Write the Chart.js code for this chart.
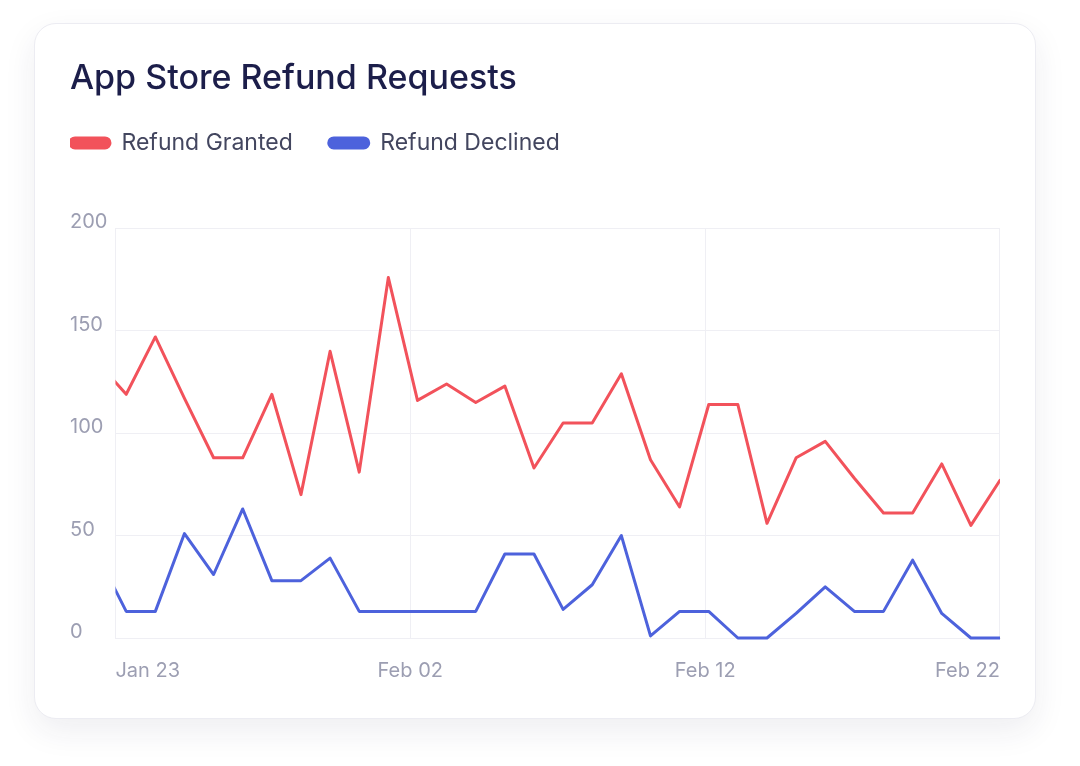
<!DOCTYPE html>
<html>
<head>
<meta charset="utf-8">
<title>App Store Refund Requests</title>
<script src="https://cdn.jsdelivr.net/npm/chart.js@4.4.1/dist/chart.umd.min.js"></script>
<style>
    html, body {
        margin: 0;
        padding: 0;
        background: #ffffff;
        width: 1080px;
        height: 766px;
        overflow: hidden;
        font-family: Inter, "Noto Sans", sans-serif;
    }
    .card {
        position: absolute;
        left: 34px;
        top: 23px;
        width: 1002px;
        height: 696px;
        background: #ffffff;
        border: 1px solid #ececf2;
        border-radius: 22px;
        box-shadow: 0 12px 32px rgba(40, 40, 80, 0.08);
        box-sizing: border-box;
    }
    #refundChart {
        position: absolute;
        left: 70px;
        top: 50px;
    }
</style>
</head>
<body>
<div class="card"></div>
<canvas id="refundChart" width="932" height="654" style="width:932px;height:654px"></canvas>

<script>
// one sample per day, Jan 22 .. Feb 22
const sampleDays = [
    'Jan 22', 'Jan 23', 'Jan 24', 'Jan 25', 'Jan 26', 'Jan 27', 'Jan 28', 'Jan 29',
    'Jan 30', 'Jan 31', 'Feb 01', 'Feb 02', 'Feb 03', 'Feb 04', 'Feb 05', 'Feb 06',
    'Feb 07', 'Feb 08', 'Feb 09', 'Feb 10', 'Feb 11', 'Feb 12', 'Feb 13', 'Feb 14',
    'Feb 15', 'Feb 16', 'Feb 17', 'Feb 18', 'Feb 19', 'Feb 20', 'Feb 21', 'Feb 22'
];
const refundGranted = [
    135, 119, 147, 117, 88, 88, 119, 70, 140, 81, 176, 116, 124, 115, 123, 83,
    105, 105, 129, 87, 64, 114, 114, 56, 88, 96, 78, 61, 61, 85, 55, 77
];
const refundDeclined = [
    41, 13, 13, 51, 31, 63, 28, 28, 39, 13, 13, 13, 13, 13, 41, 41,
    14, 26, 50, 1, 13, 13, 0, 0, 12, 25, 13, 13, 38, 12, 0, 0
];
const tickLabels = ['Jan 23', 'Feb 02', 'Feb 12', 'Feb 22'];
const yTicks = [0, 50, 100, 150, 200];

// visible window starts a bit into the first sample
const xStart = 0.63;

const gridColor = '#efeff4';
const tickColor = '#9c9eb2';

// push the plot down below the legend and pull the legend to the left edge
const legendGap = {
    id: 'legendGap',
    beforeInit(chart) {
        const fit = chart.legend.fit;
        chart.legend.fit = function () {
            fit.bind(chart.legend)();
            this.height += 64;
        };
    },
    afterLayout(chart) {
        chart.legend.left -= 36;
        chart.legend.right -= 36;
    }
};

document.addEventListener('DOMContentLoaded', () => {
    const ctx = document.getElementById('refundChart');

    const toPoints = values => values.map((v, i) => ({ x: i, y: v }));

    new Chart(ctx, {
        type: 'line',
        data: {
            datasets: [{
                label: 'Refund Granted',
                data: toPoints(refundGranted),
                borderColor: '#f2525b',
                backgroundColor: '#f2525b',
                borderWidth: 3,
                tension: 0,
                pointRadius: 0,
                borderJoinStyle: 'round',
                borderCapStyle: 'round',
                clip: { left: 0, right: 0, top: 5, bottom: 5 }
            }, {
                label: 'Refund Declined',
                data: toPoints(refundDeclined),
                borderColor: '#4d62dc',
                backgroundColor: '#4d62dc',
                borderWidth: 3,
                tension: 0,
                pointRadius: 0,
                borderJoinStyle: 'round',
                borderCapStyle: 'round',
                clip: { left: 0, right: 0, top: 5, bottom: 5 }
            }]
        },
        options: {
            responsive: false,
            animation: false,
            layout: { padding: { right: 2 } },
            plugins: {
                title: {
                    display: true,
                    text: 'App Store Refund Requests',
                    align: 'start',
                    color: '#1c1e4a',
                    font: { family: 'Inter', size: 34, weight: '500', lineHeight: 1.1 },
                    padding: { top: 10, bottom: -2 }
                },
                legend: {
                    display: true,
                    align: 'start',
                    labels: {
                        boxWidth: 40,
                        boxHeight: 10,
                        useBorderRadius: true,
                        borderRadius: 5,
                        padding: 36,
                        color: '#43465f',
                        font: { family: 'Inter', size: 23 }
                    }
                },
                tooltip: { enabled: false }
            },
            scales: {
                x: {
                    type: 'linear',
                    min: xStart,
                    max: sampleDays.length - 1,
                    afterBuildTicks: axis => {
                        const step = (axis.max - axis.min) / (tickLabels.length - 1);
                        axis.ticks = tickLabels.map((_, i) => ({ value: axis.min + i * step }));
                    },
                    afterFit: axis => {
                        axis.paddingLeft = 0;
                        axis.paddingRight = 0;
                    },
                    ticks: {
                        align: 'inner',
                        maxRotation: 0,
                        autoSkip: false,
                        padding: 21,
                        color: tickColor,
                        font: { family: 'Inter', size: 20 },
                        callback: (value, index) => tickLabels[index]
                    },
                    grid: { color: gridColor, drawTicks: false },
                    border: { color: gridColor }
                },
                y: {
                    min: yTicks[0],
                    max: yTicks[yTicks.length - 1],
                    afterBuildTicks: axis => {
                        axis.ticks = yTicks.map(v => ({ value: v }));
                    },
                    ticks: {
                        crossAlign: 'far',
                        padding: 4,
                        labelOffset: -6,
                        color: tickColor,
                        font: { family: 'Inter', size: 20 }
                    },
                    grid: { color: gridColor, drawTicks: false },
                    border: { color: gridColor }
                }
            }
        },
        plugins: [legendGap]
    });
});
</script>
</body>
</html>
